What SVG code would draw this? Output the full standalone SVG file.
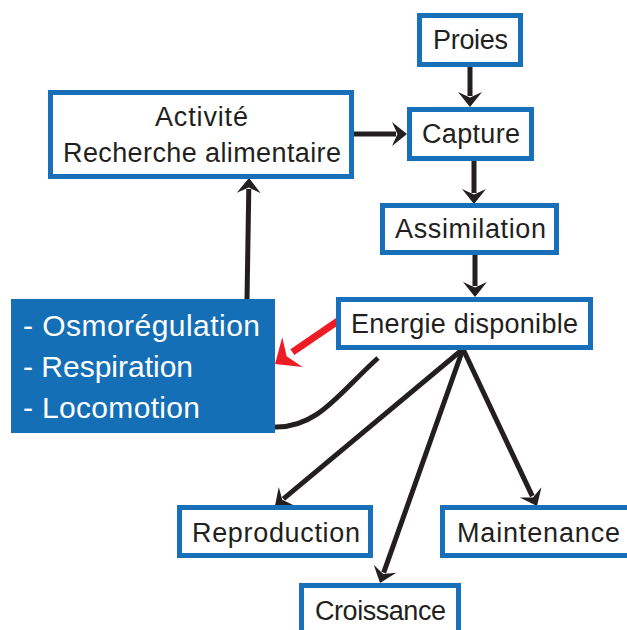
<svg xmlns="http://www.w3.org/2000/svg" width="627" height="630" viewBox="0 0 627 630">
  <style>
    .box { fill: #ffffff; stroke: #1770b9; stroke-width: 5; }
    .lbl { font-family: "Liberation Sans", Arial, sans-serif; font-size: 27px; fill: #231f20; text-anchor: middle; }
    .wlbl { font-family: "Liberation Sans", Arial, sans-serif; font-size: 30px; fill: #ffffff; }
    .conn { stroke: #231f20; stroke-width: 5; fill: none; }
    .red { stroke: #ee1c24; stroke-width: 7; fill: none; }
  </style>
  <defs>
    <marker id="ah" markerUnits="userSpaceOnUse" viewBox="-6 -14 20 28" refX="0" refY="0" markerWidth="20" markerHeight="28" orient="auto" overflow="visible">
      <path d="M11,0 L-4,-12 L1.5,0 L-4,12 Z" fill="#231f20"/>
    </marker>
    <marker id="ahr" markerUnits="userSpaceOnUse" viewBox="-2 -19 24 38" refX="0" refY="0" markerWidth="24" markerHeight="38" orient="auto" overflow="visible">
      <path d="M21,0 L0,-18 L7,0 L0,18 Z" fill="#ee1c24"/>
    </marker>
  </defs>

  <g id="connectors">
    <line class="conn" x1="470" y1="66" x2="470" y2="96" marker-end="url(#ah)"/>
    <line class="conn" x1="353" y1="134" x2="396" y2="134" marker-end="url(#ah)"/>
    <line class="conn" x1="474" y1="160" x2="474" y2="193" marker-end="url(#ah)"/>
    <line class="conn" x1="475" y1="254" x2="475" y2="286" marker-end="url(#ah)"/>
    <line class="conn" x1="247" y1="300" x2="248.8" y2="189" marker-end="url(#ah)"/>
    <line class="conn" x1="463" y1="349" x2="283.4" y2="498.9" marker-end="url(#ah)"/>
    <line class="conn" x1="463" y1="349" x2="383.7" y2="572.6" marker-end="url(#ah)"/>
    <line class="conn" x1="463" y1="349" x2="532.3" y2="496.1" marker-end="url(#ah)"/>
    <path class="conn" d="M378,358 C340,392 318,428 275,427"/>
    <line class="red" x1="338" y1="321" x2="292.4" y2="352.2" marker-end="url(#ahr)"/>
  </g>

  <g id="proies">
    <rect class="box" x="419.5" y="15.5" width="101" height="49"/>
    <text class="lbl" x="470.5" y="49" textLength="75">Proies</text>
  </g>
  <g id="capture">
    <rect class="box" x="409.5" y="109.5" width="122" height="49"/>
    <text class="lbl" x="471" y="143" textLength="98">Capture</text>
  </g>
  <g id="activite">
    <rect class="box" x="50.5" y="92.5" width="301" height="84"/>
    <text class="lbl" x="201.5" y="126" textLength="93">Activité</text>
    <text class="lbl" x="202" y="162" textLength="278">Recherche alimentaire</text>
  </g>
  <g id="assimilation">
    <rect class="box" x="382.5" y="205.5" width="174" height="47"/>
    <text class="lbl" x="470.5" y="238" textLength="151">Assimilation</text>
  </g>
  <g id="energie">
    <rect class="box" x="338.5" y="299.5" width="252" height="48"/>
    <text class="lbl" x="464.5" y="333" textLength="227">Energie disponible</text>
  </g>
  <g id="depenses">
    <rect x="11" y="299" width="264" height="134" fill="#156fb6"/>
    <text class="wlbl" x="23" y="336" textLength="237">- Osmorégulation</text>
    <text class="wlbl" x="23" y="377" textLength="170">- Respiration</text>
    <text class="wlbl" x="23" y="418" textLength="177">- Locomotion</text>
  </g>
  <g id="reproduction">
    <rect class="box" x="179.5" y="507.5" width="191" height="48"/>
    <text class="lbl" x="276" y="542" textLength="168">Reproduction</text>
  </g>
  <g id="maintenance">
    <rect class="box" x="442.5" y="507.5" width="200" height="48"/>
    <text class="lbl" x="538.5" y="542" textLength="163">Maintenance</text>
  </g>
  <g id="croissance">
    <rect class="box" x="301.5" y="585.5" width="157" height="60"/>
    <text class="lbl" x="380.5" y="620" textLength="131">Croissance</text>
  </g>
</svg>
